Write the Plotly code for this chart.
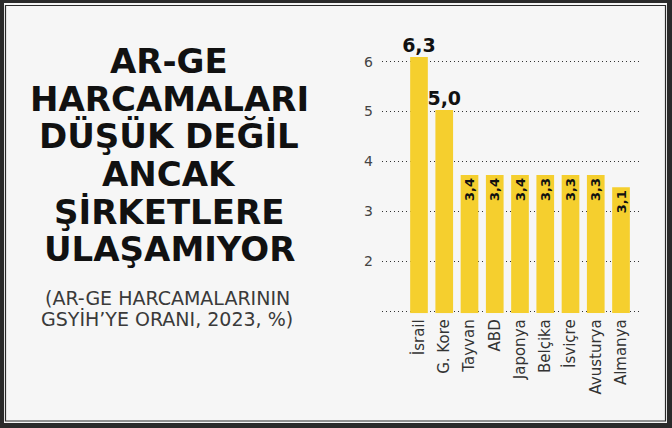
import plotly.graph_objects as go

W, H = 672, 428

# Veri
categories = ["İsrail", "G. Kore", "Tayvan", "ABD", "Japonya", "Belçika", "İsviçre", "Avusturya", "Almanya"]
values = [6.3, 5.0, 3.4, 3.4, 3.4, 3.4, 3.4, 3.4, 3.1]   # çubuk yükseklikleri (resimde çizildiği gibi)
labels = ["6,3", "5,0", "3,4", "3,4", "3,4", "3,3", "3,3", "3,3", "3,1"]
grid_ticks = [1, 2, 3, 4, 5, 6]
grid_labels = ["", "2", "3", "4", "5", "6"]

title_lines = ["AR-GE", "HARCAMALARI", "DÜŞÜK DEĞİL", "ANCAK", "ŞİRKETLERE", "ULAŞAMIYOR"]
subtitle_lines = ["(AR-GE HARCAMALARININ", "GSYİH’YE ORANI, 2023, %)"]

BG = "#f6f6f6"
DARK = "#2a2a2a"
YELLOW = "#f5cf2e"


def px(x):
    return x / W


def py(y):
    return 1 - y / H


big = [v >= 4.5 for v in values]

fig = go.Figure()

fig.add_trace(go.Bar(
    x=categories, y=values,
    marker=dict(color=YELLOW, line=dict(width=0)),
    text=[l if not b else "" for l, b in zip(labels, big)],
    textposition="inside", insidetextanchor="end", textangle=-90,
    constraintext="none",
    insidetextfont=dict(family="DejaVu Sans", size=13, color="#111", weight="bold"),
    hoverinfo="x+y",
))

# buyuk degerlerin etiketleri cubugun ustunde
fig.add_trace(go.Scatter(
    x=[c for c, b in zip(categories, big) if b],
    y=[v for v, b in zip(values, big) if b],
    text=[l for l, b in zip(labels, big) if b],
    mode="text", textposition="top center",
    textfont=dict(family="DejaVu Sans", size=19, color="#111", weight="bold"),
    cliponaxis=False, hoverinfo="skip",
))

# sadece izgara icin ikinci eksen
fig.add_trace(go.Scatter(x=[], y=[], yaxis="y2", hoverinfo="skip"))

x_dom = [px(382), px(640)]
y_dom = [py(313.3), py(40)]

fig.update_layout(
    width=W, height=H,
    margin=dict(l=0, r=0, t=0, b=0),
    paper_bgcolor=BG, plot_bgcolor="rgba(0,0,0,0)",
    showlegend=False,
    bargap=0.3,
    xaxis=dict(
        domain=x_dom, type="category", categoryorder="array", categoryarray=categories,
        range=[-1.465, 8.752], showgrid=False, zeroline=False, showline=False,
        tickangle=-90, ticks="", ticklabelstandoff=2,
        tickfont=dict(family="DejaVu Sans", size=15, color="#333"),
    ),
    yaxis=dict(
        domain=y_dom, range=[0, 6.719], visible=False, showgrid=False,
    ),
    yaxis2=dict(
        domain=y_dom, overlaying="y", side="left", anchor="x",
        range=[0.954, 6.435], tickvals=grid_ticks, ticktext=grid_labels,
        showgrid=True, griddash="1px,3px", gridcolor="#333", gridwidth=1,
        zeroline=False, showline=False, ticks="", ticklabelstandoff=8,
        tickfont=dict(family="DejaVu Sans", size=14, color="#444"),
    ),
)

# baslik
title_y = [61, 98.5, 136, 174, 211.5, 249]
for line, y in zip(title_lines, title_y):
    fig.add_annotation(
        x=px(169), y=py(y), xref="paper", yref="paper", text=line, showarrow=False,
        xanchor="center", yanchor="middle",
        font=dict(family="DejaVu Sans", size=34, color="#111", weight="bold"),
    )

sub_y = [297.5, 319]
for line, y in zip(subtitle_lines, sub_y):
    fig.add_annotation(
        x=px(167), y=py(y), xref="paper", yref="paper", text=line, showarrow=False,
        xanchor="center", yanchor="middle",
        font=dict(family="DejaVu Sans", size=19, color="#3a3a3a"),
    )

# cerceve
for x0, y0, x1, y1 in [(0, 0, W, 3), (0, 0, 4, H), (667, 0, W, H), (0, 423, W, H)]:
    fig.add_shape(type="rect", xref="paper", yref="paper",
                  x0=px(x0), y0=py(y0), x1=px(x1), y1=py(y1),
                  fillcolor=DARK, line=dict(width=0), layer="above")
fig.add_shape(type="rect", xref="paper", yref="paper",
              x0=px(5.5), y0=py(5.5), x1=px(665.5), y1=py(421),
              line=dict(color=DARK, width=1.2), fillcolor="rgba(0,0,0,0)", layer="above")

# sayfa kenar boslugu olmasin
fig.write_html("out.html", config={"displayModeBar": False},
               post_script="document.body.style.margin='0';")
